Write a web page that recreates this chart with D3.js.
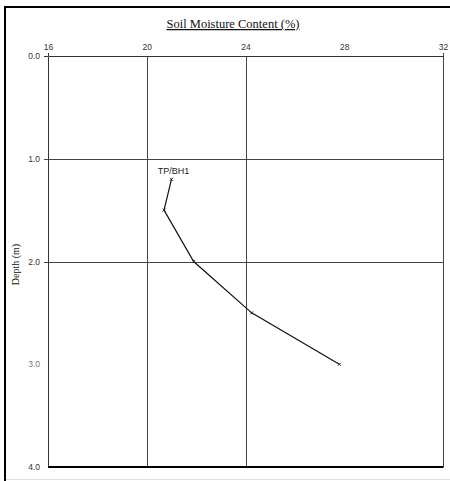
<!DOCTYPE html>
<html>
<head>
<meta charset="utf-8">
<script src="https://cdn.jsdelivr.net/npm/d3@7"></script>
<style>
  body { margin: 0; background: #fff; }
</style>
</head>
<body>
<div id="chart"></div>
<script>
const moisture = [21.0, 20.7, 21.9, 24.25, 27.8];
const depth = [1.2, 1.5, 2.0, 2.5, 3.0];
const xTicks = [16, 20, 24, 28, 32];
const yTicks = [0.0, 1.0, 2.0, 3.0, 4.0];
const xGrid = [20, 24, 32];
const yGrid = [1.0, 2.0];
const seriesName = "TP/BH1";

const W = 450, H = 481;
const margin = { top: 56, right: 7, bottom: 14, left: 48 };
const width = W - margin.left - margin.right;
const height = H - margin.top - margin.bottom;

const svg = d3.select("#chart").append("svg")
    .attr("width", W)
    .attr("height", H);

// outer frame
svg.append("line").attr("x1", 5).attr("y1", 7).attr("x2", 5).attr("y2", H)
    .attr("stroke", "#000").attr("stroke-width", 2);
svg.append("line").attr("x1", 4).attr("y1", 7).attr("x2", W).attr("y2", 7)
    .attr("stroke", "#000").attr("stroke-width", 2);
svg.append("line").attr("x1", 6).attr("y1", 479.5).attr("x2", W).attr("y2", 479.5)
    .attr("stroke", "#ddd").attr("stroke-width", 1);

const g = svg.append("g").attr("transform", `translate(${margin.left},${margin.top})`);

const x = d3.scaleLinear().domain([16, 32]).range([0, width]);
const y = d3.scaleLinear().domain([0, 4]).range([0, height]);

// grid
g.selectAll(".vgrid").data(xGrid).enter().append("line")
    .attr("x1", d => Math.round(x(d)) + 0.5).attr("x2", d => Math.round(x(d)) + 0.5)
    .attr("y1", d => d === 32 ? -3 : 0).attr("y2", height)
    .attr("stroke", "#444").attr("stroke-width", 1);
g.selectAll(".hgrid").data(yGrid).enter().append("line")
    .attr("y1", d => Math.round(y(d)) + 0.5).attr("y2", d => Math.round(y(d)) + 0.5)
    .attr("x1", -4).attr("x2", width)
    .attr("stroke", "#444").attr("stroke-width", 1);

// top axis
const xAxis = g.append("g")
    .call(d3.axisTop(x).tickValues(xTicks).tickSize(0).tickPadding(6).tickFormat(d3.format("d")));
xAxis.select(".domain").attr("stroke", "#333");
xAxis.selectAll("text").style("font-family", "Arial, 'Liberation Sans', sans-serif")
    .style("font-size", "8.5px").attr("fill", "#333");

// left axis
const yAxis = g.append("g")
    .call(d3.axisLeft(y).tickValues(yTicks).tickSize(0).tickPadding(8).tickFormat(d3.format(".1f")));
yAxis.select(".domain").attr("stroke", "#333");
yAxis.selectAll("text").style("font-family", "Arial, 'Liberation Sans', sans-serif")
    .style("font-size", "8.5px").attr("fill", d => d === 3 ? "#777" : "#333");

// corner extensions
g.append("line").attr("x1", 0.5).attr("x2", 0.5).attr("y1", -3).attr("y2", 0)
    .attr("stroke", "#333");
g.append("line").attr("x1", -4).attr("x2", 0).attr("y1", 0.5).attr("y2", 0.5)
    .attr("stroke", "#333");

// bottom axis line (thick)
g.append("line").attr("x1", 0).attr("x2", width + 0.5)
    .attr("y1", height).attr("y2", height)
    .attr("stroke", "#000").attr("stroke-width", 2);

// series
const pts = moisture.map((m, i) => ({ m, d: depth[i] }));
g.append("path")
    .datum(pts)
    .attr("fill", "none")
    .attr("stroke", "#111")
    .attr("stroke-width", 1.2)
    .attr("d", d3.line().x(d => x(d.m)).y(d => y(d.d)));

g.selectAll(".mark").data(pts).enter().append("path")
    .attr("transform", d => `translate(${x(d.m)},${y(d.d)})`)
    .attr("d", "M-1.5,-1.5L1.5,1.5M-1.5,1.5L1.5,-1.5")
    .attr("stroke", "#222").attr("stroke-width", 1);

g.append("text")
    .attr("x", x(pts[0].m) + 2)
    .attr("y", y(pts[0].d) - 5)
    .attr("text-anchor", "middle")
    .style("font-family", "Arial, 'Liberation Sans', sans-serif")
    .style("font-size", "9px")
    .attr("fill", "#222")
    .text(seriesName);

// titles
svg.append("text")
    .attr("x", 233)
    .attr("y", 28)
    .attr("text-anchor", "middle")
    .style("font-family", "'Liberation Serif', 'Times New Roman', serif")
    .style("font-size", "12.5px")
    .style("text-decoration", "underline")
    .attr("fill", "#111")
    .text("Soil Moisture Content (%)");

svg.append("text")
    .attr("transform", `translate(19,${margin.top + height / 2 + 3}) rotate(-90)`)
    .attr("text-anchor", "middle")
    .style("font-family", "'Liberation Serif', 'Times New Roman', serif")
    .style("font-size", "10px")
    .attr("fill", "#111")
    .text("Depth (m)");
</script>
</body>
</html>
